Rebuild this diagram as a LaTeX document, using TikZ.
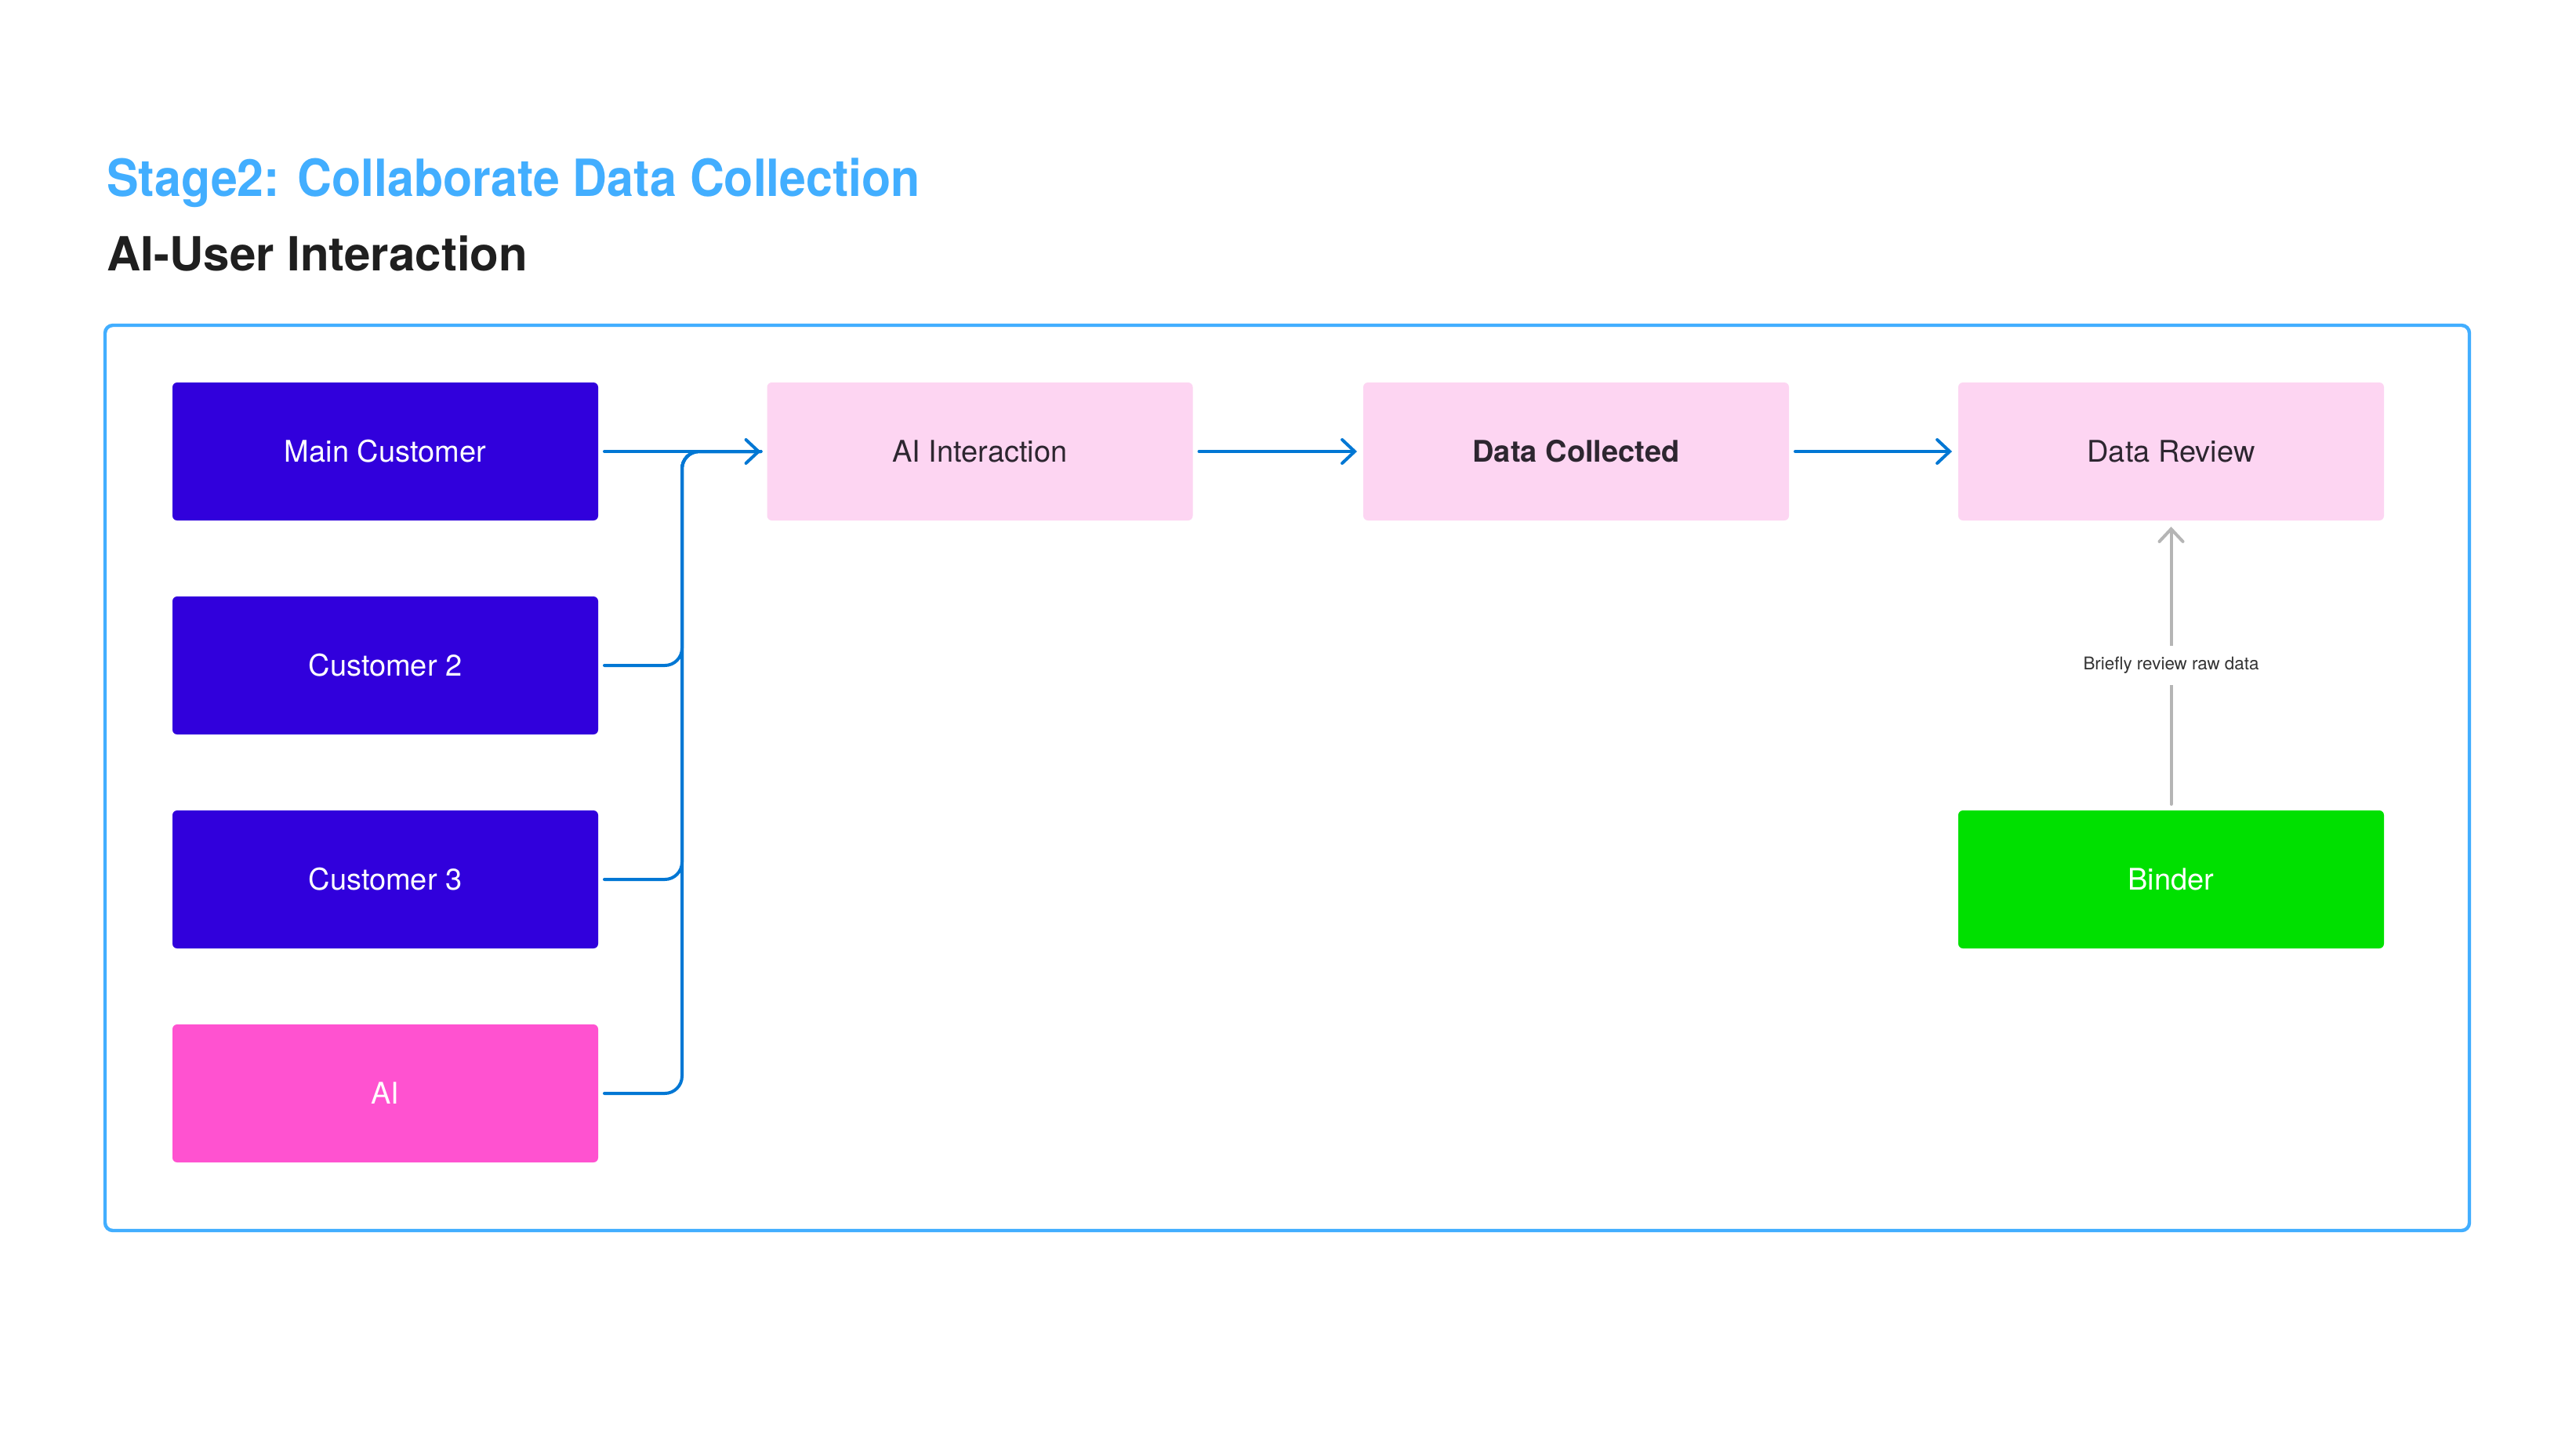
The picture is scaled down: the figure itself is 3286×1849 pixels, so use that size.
\documentclass[tikz,border=0pt]{standalone}
\usepackage{fontspec}
\setmainfont{TeX Gyre Heros}
\newfontfamily\titlefont[FakeStretch=0.93]{TeX Gyre Heros}
\usetikzlibrary{arrows.meta}
\definecolor{titleblue}{RGB}{66,174,255}
\definecolor{darkblue}{RGB}{49,0,220}
\definecolor{hotpink}{RGB}{255,82,208}
\definecolor{lightpink}{RGB}{253,213,242}
\definecolor{brightgreen}{RGB}{0,224,0}
\definecolor{connblue}{RGB}{0,119,212}
\definecolor{arrgray}{RGB}{181,181,181}
\definecolor{darktext}{RGB}{45,38,48}
\definecolor{lbltext}{RGB}{51,51,51}
\tikzset{
  box/.style={rectangle, rounded corners=3pt, minimum width=271.5pt, minimum height=88pt,
    inner sep=0pt, outer sep=4pt, font=\fontsize{19}{22}\selectfont},
  custbox/.style={box, fill=darkblue, text=white},
  aibox/.style={box, fill=hotpink, text=white},
  pinkbox/.style={box, fill=lightpink, text=darktext},
  greenbox/.style={box, fill=brightgreen, text=white},
  conn/.style={draw=connblue, line width=2pt, line cap=round, line join=round},
  connarrow/.style={conn, -{Straight Barb[length=8pt,width=15pt,line cap=round]}},
  grayarrow/.style={draw=arrgray, line width=2pt, line cap=round,
    -{Straight Barb[length=8pt,width=15pt,line cap=round]}},
  lbl/.style={fill=white, text=lbltext, inner xsep=3pt, inner ysep=7pt,
    font=\fontsize{11.2}{13}\selectfont},
  frame/.style={draw=titleblue, line width=2.2pt, rounded corners=5pt}
}
\begin{document}
\begin{tikzpicture}[x=0.5pt, y=-0.5pt]
\useasboundingbox (0,0) rectangle (3286,1849);
\fill[white] (0,0) rectangle (3286,1849);

% titles
\node[anchor=base west, inner sep=0pt, text=titleblue, font=\titlefont\bfseries\fontsize{32.7}{38}\selectfont] (title) at (136,250) {Stage2: Collaborate Data Collection};
\node[anchor=base west, inner sep=0pt, text=black!88, font=\bfseries\fontsize{30}{35}\selectfont] (subtitle) at (136,345) {AI-User Interaction};

% frame
\draw[frame] (134,415) rectangle (3150,1570);

% left column
\node[custbox] (mc) at (491.5,576) {Main Customer};
\node[custbox] (c2) at (491.5,849) {Customer 2};
\node[custbox] (c3) at (491.5,1122) {Customer 3};
\node[aibox] (ai) at (491.5,1395) {AI};

% top row
\node[pinkbox] (aiint) at (1250,576) {AI Interaction};
\node[pinkbox] (dc) at (2010.5,576) {\bfseries Data Collected};
\node[pinkbox] (dr) at (2769.5,576) {Data Review};
\node[greenbox] (binder) at (2769.5,1122) {Binder};

% junction
\coordinate (j) at (870,576);

% connectors
\draw[conn, rounded corners=11pt] (c2.east) -| (j) -- (aiint.west);
\draw[conn, rounded corners=11pt] (c3.east) -| (j) -- (aiint.west);
\draw[conn, rounded corners=11pt] (ai.east) -| (j) -- (aiint.west);
\draw[connarrow] (mc.east) -- (aiint.west);
\draw[connarrow] (aiint.east) -- (dc.west);
\draw[connarrow] (dc.east) -- (dr.west);

\draw[grayarrow] (binder.north) -- node[lbl] (lb) {Briefly review raw data} (dr.south);
\end{tikzpicture}
\end{document}
